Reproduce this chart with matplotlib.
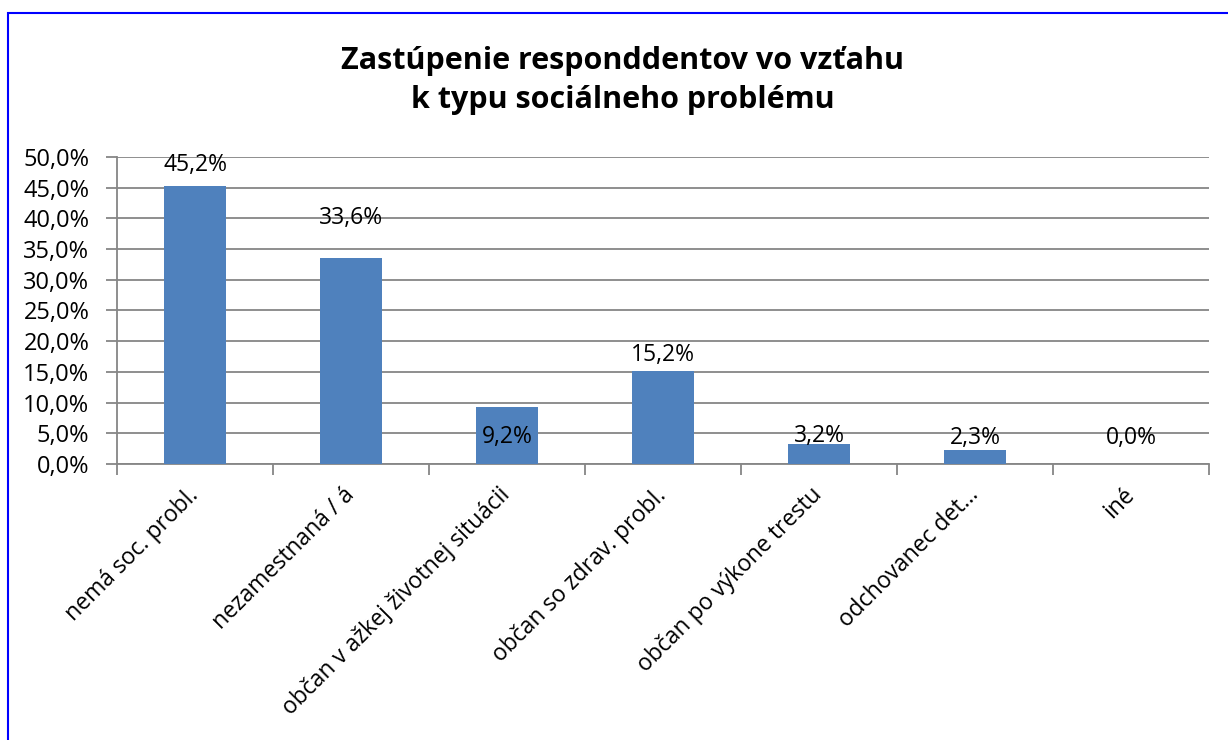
import matplotlib
matplotlib.use("Agg")
import matplotlib.pyplot as plt
from matplotlib.patches import Rectangle
import numpy as np

categories = ["nemá soc. probl.", "nezamestnaná / á", "občan v ažkej životnej situácii",
              "občan so zdrav. probl.", "občan po výkone trestu", "odchovanec det...", "iné"]
values = [45.2, 33.6, 9.2, 15.2, 3.2, 2.3, 0.0]
label_y = [48.7, 40.1, 4.4, 17.8, 4.6, 4.2, 4.2]
yticks = [0, 5, 10, 15, 20, 25, 30, 35, 40, 45, 50]
title = "Zastúpenie responddentov vo vzťahu\nk typu sociálneho problému"

plt.rcParams['font.family'] = ['Open Sans', 'DejaVu Sans']
fig = plt.figure(figsize=(12.28, 7.40), dpi=100)
ax = fig.add_axes([0.0953, 0.373, 0.8892, 0.415])

x = np.arange(len(categories))
ax.bar(x, values, width=0.4, color="#4F81BD", zorder=3)
for xi, v, ly in zip(x, values, label_y):
    ax.text(xi, ly, f"{v:.1f}%".replace(".", ","), ha="center", va="center",
            fontsize=16.5, zorder=4)

ax.set_xlim(-0.5, len(categories) - 0.5)
ax.set_ylim(0, 50)
ax.set_yticks(yticks)
ax.set_yticklabels([f"{t:.1f}%".replace(".", ",") for t in yticks], fontsize=17)
ax.yaxis.grid(True, color="#868686", linewidth=1.3, zorder=0)
ax.set_axisbelow(True)

ax.set_xticks(x)
ax.set_xticklabels(categories, rotation=45, ha="right", va="center",
                   rotation_mode="anchor", fontsize=16.5)
ax.tick_params(axis="x", length=0, pad=20)
ax.set_xticks(np.arange(len(categories) + 1) - 0.5, minor=True)
ax.tick_params(axis="x", which="minor", length=8, color="#868686", width=1.3)
ax.tick_params(axis="y", length=8, color="#868686", width=1.3, pad=12)

for s in ["top", "right"]:
    ax.spines[s].set_visible(False)
for s in ["left", "bottom"]:
    ax.spines[s].set_color("#868686")
    ax.spines[s].set_linewidth(1.3)

fig.text(0.507, 0.891, title, ha="center", va="center", fontsize=22,
         fontweight="bold", linespacing=1.42)

fig.patches.append(Rectangle((0.0065, -0.01), 1.2, 0.9924, transform=fig.transFigure,
                             fill=False, edgecolor="#0000FF", linewidth=1.5))

fig.savefig("out.png", dpi=100)
